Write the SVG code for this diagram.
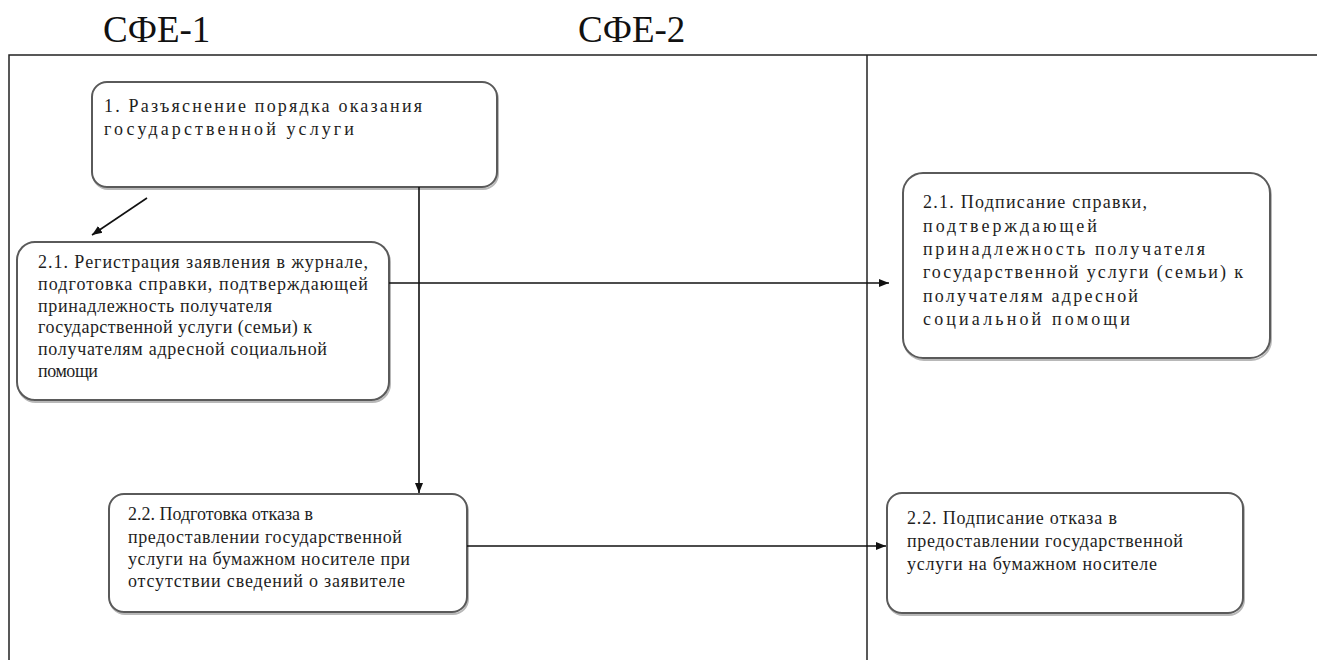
<svg xmlns="http://www.w3.org/2000/svg" width="1317" height="660" viewBox="0 0 1317 660">
  <defs>
    <marker id="arrow" viewBox="0 0 10 10" refX="10" refY="5" markerWidth="10" markerHeight="10" markerUnits="userSpaceOnUse" orient="auto">
      <path d="M0,1 L10,5 L0,9 Z" fill="#111"/>
    </marker>
  </defs>
  <style>
    .frame { fill: none; stroke: #222; stroke-width: 1.5; }
    .box { fill: #fff; stroke: #5a5a5a; stroke-width: 2; }
    .shadow { fill: none; stroke: #b8b8b8; stroke-width: 2; }
    .conn { fill: none; stroke: #111; stroke-width: 1.6; }
  </style>

  <rect width="1317" height="660" fill="#fff"/>

  <!-- column headings -->
  <text x="103" y="42" style="font-family:'Liberation Serif',serif;font-size:37px;fill:#111">СФЕ-1</text>
  <text x="578" y="42" style="font-family:'Liberation Serif',serif;font-size:37px;fill:#111">СФЕ-2</text>

  <!-- swimlane frame -->
  <g id="frame">
    <path class="frame" d="M9,660 V55 H1317"/>
    <line class="frame" x1="867" y1="55" x2="867" y2="660"/>
  </g>

  <!-- 1. explanation -->
  <g id="n1">
    <rect class="shadow" x="93" y="84" width="405" height="105" rx="15"/>
    <rect class="box" x="92" y="82" width="405" height="105" rx="15"/>
    <text x="104" y="112" style="font-family:'Liberation Serif',serif;font-size:18px;fill:#1e1e1e" textLength="318" lengthAdjust="spacing">1. Разъяснение порядка оказания</text>
    <text x="104" y="135" style="font-family:'Liberation Serif',serif;font-size:18px;fill:#1e1e1e" textLength="250" lengthAdjust="spacing">государственной услуги</text>
  </g>

  <!-- 2.1 registration (СФЕ-1) -->
  <g id="n21a">
    <rect class="shadow" x="18" y="244" width="372" height="158" rx="18"/>
    <rect class="box" x="17" y="242" width="372" height="158" rx="18"/>
    <text x="38" y="268" style="font-family:'Liberation Serif',serif;font-size:18px;fill:#1e1e1e" textLength="330" lengthAdjust="spacing">2.1. Регистрация  заявления  в журнале,</text>
    <text x="38" y="290" style="font-family:'Liberation Serif',serif;font-size:18px;fill:#1e1e1e" textLength="330" lengthAdjust="spacing">подготовка справки,  подтверждающей</text>
    <text x="38" y="312" style="font-family:'Liberation Serif',serif;font-size:18px;fill:#1e1e1e" textLength="234" lengthAdjust="spacing">принадлежность  получателя</text>
    <text x="38" y="333" style="font-family:'Liberation Serif',serif;font-size:18px;fill:#1e1e1e" textLength="274" lengthAdjust="spacing">государственной  услуги (семьи)  к</text>
    <text x="38" y="355" style="font-family:'Liberation Serif',serif;font-size:18px;fill:#1e1e1e" textLength="289" lengthAdjust="spacing">получателям адресной  социальной</text>
    <text x="38" y="377" style="font-family:'Liberation Serif',serif;font-size:18px;fill:#1e1e1e" textLength="60" lengthAdjust="spacing">помощи</text>
  </g>

  <!-- 2.1 signing (СФЕ-2) -->
  <g id="n21b">
    <rect class="shadow" x="904" y="175" width="367" height="185" rx="20"/>
    <rect class="box" x="903" y="173" width="367" height="185" rx="20"/>
    <text x="923" y="208" style="font-family:'Liberation Serif',serif;font-size:18px;fill:#1e1e1e" textLength="224" lengthAdjust="spacing">2.1. Подписание справки,</text>
    <text x="923" y="232" style="font-family:'Liberation Serif',serif;font-size:18px;fill:#1e1e1e" textLength="174" lengthAdjust="spacing">подтверждающей</text>
    <text x="923" y="255" style="font-family:'Liberation Serif',serif;font-size:18px;fill:#1e1e1e" textLength="282" lengthAdjust="spacing">принадлежность получателя</text>
    <text x="923" y="278" style="font-family:'Liberation Serif',serif;font-size:18px;fill:#1e1e1e" textLength="320" lengthAdjust="spacing">государственной услуги (семьи) к</text>
    <text x="923" y="302" style="font-family:'Liberation Serif',serif;font-size:18px;fill:#1e1e1e" textLength="215" lengthAdjust="spacing">получателям адресной</text>
    <text x="923" y="325" style="font-family:'Liberation Serif',serif;font-size:18px;fill:#1e1e1e" textLength="207" lengthAdjust="spacing">социальной помощи</text>
  </g>

  <!-- 2.2 refusal preparation (СФЕ-1) -->
  <g id="n22a">
    <rect class="shadow" x="110" y="496" width="358" height="118" rx="15"/>
    <rect class="box" x="109" y="494" width="358" height="118" rx="15"/>
    <text x="128" y="520" style="font-family:'Liberation Serif',serif;font-size:18px;fill:#1e1e1e" textLength="185" lengthAdjust="spacing">2.2. Подготовка отказа в</text>
    <text x="128" y="543" style="font-family:'Liberation Serif',serif;font-size:18px;fill:#1e1e1e" textLength="274" lengthAdjust="spacing">предоставлении  государственной</text>
    <text x="128" y="565" style="font-family:'Liberation Serif',serif;font-size:18px;fill:#1e1e1e" textLength="282" lengthAdjust="spacing">услуги на  бумажном  носителе  при</text>
    <text x="128" y="587" style="font-family:'Liberation Serif',serif;font-size:18px;fill:#1e1e1e" textLength="277" lengthAdjust="spacing">отсутствии  сведений  о заявителе</text>
  </g>

  <!-- 2.2 refusal signing (СФЕ-2) -->
  <g id="n22b">
    <rect class="shadow" x="888" y="495" width="356" height="120" rx="15"/>
    <rect class="box" x="887" y="493" width="356" height="120" rx="15"/>
    <text x="907" y="524" style="font-family:'Liberation Serif',serif;font-size:18px;fill:#1e1e1e" textLength="210" lengthAdjust="spacing">2.2. Подписание  отказа  в</text>
    <text x="907" y="547" style="font-family:'Liberation Serif',serif;font-size:18px;fill:#1e1e1e" textLength="276" lengthAdjust="spacing">предоставлении  государственной</text>
    <text x="907" y="570" style="font-family:'Liberation Serif',serif;font-size:18px;fill:#1e1e1e" textLength="250" lengthAdjust="spacing">услуги на  бумажном  носителе</text>
  </g>

  <!-- connectors -->
  <g id="connectors">
    <line class="conn" x1="147" y1="198" x2="92" y2="235" marker-end="url(#arrow)"/>
    <line class="conn" x1="419" y1="187" x2="419" y2="493" marker-end="url(#arrow)"/>
    <line class="conn" x1="389" y1="283" x2="889" y2="283" marker-end="url(#arrow)"/>
    <line class="conn" x1="467" y1="546" x2="886" y2="546" marker-end="url(#arrow)"/>
  </g>
</svg>
